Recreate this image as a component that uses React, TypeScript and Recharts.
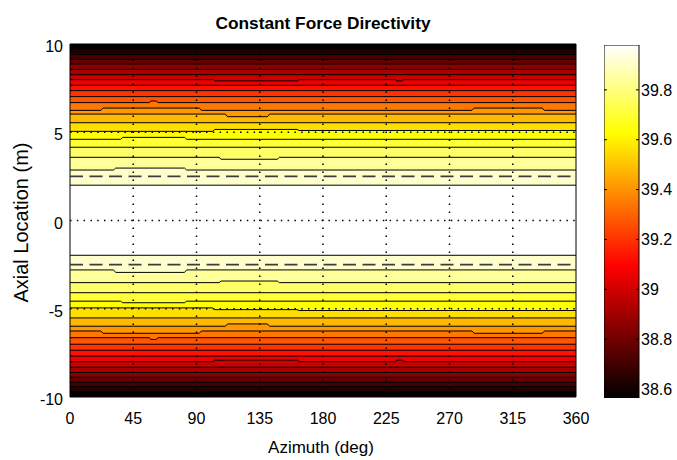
import React from 'react';
import { ComposedChart, Area, Bar, XAxis, YAxis, ReferenceLine, ReferenceArea, Label } from 'recharts';

const FONT = "'Liberation Sans', Arial, Helvetica, sans-serif";

const azimuthTicks = [0, 45, 90, 135, 180, 225, 270, 315, 360];
const axialTicks = [-10, -5, 0, 5, 10];
const gridAzimuths = [45, 90, 135, 180, 225, 270, 315];
const gridAxials = [-5, 0, 5];
const dashedAxials = [-2.5, 2.5];
const colorTicks = [38.6, 38.8, 39, 39.2, 39.4, 39.6, 39.8];
const colorRange = [38.564, 39.98];

// contour levels (level k bounds the band coloured by level k-1)
const contourLevels = [38.56, 38.64, 38.71, 38.78, 38.85, 38.92, 38.99, 39.06, 39.13, 39.20, 39.27,
  39.34, 39.41, 39.48, 39.56, 39.63, 39.70, 39.77, 39.84, 39.91, 39.98];

// contour lines above 0: [azimuth, axial] vertices, outermost first
const upperContours: number[][][] = [
  [[0, 9.70], [360, 9.70]],
  [[0, 9.40], [360, 9.40]],
  [[0, 9.13], [360, 9.13]],
  [[0, 8.87], [360, 8.87]],
  [[0, 8.56], [360, 8.56]],
  [[0, 8.26], [360, 8.26]],
  [[0, 7.98], [102, 7.98], [103, 7.91], [162, 7.91], [163, 7.98], [231.5, 7.98], [232.5, 7.91], [236.5, 7.91], [237.5, 7.98], [360, 7.98]],
  [[0, 7.66], [360, 7.66]],
  [[0, 7.36], [360, 7.36]],
  [[0, 7.02], [360, 7.02]],
  [[0, 6.68], [56.5, 6.68], [57.5, 6.77], [61.5, 6.77], [62.5, 6.68], [360, 6.68]],
  [[0, 6.24], [22, 6.24], [23.5, 6.37], [92, 6.37], [93.5, 6.24], [286, 6.24], [287.5, 6.37], [336, 6.37], [337.5, 6.24], [360, 6.24]],
  [[0, 6.03], [110.5, 6.03], [112, 5.88], [140.5, 5.88], [142, 6.03], [360, 6.03]],
  [[0, 5.54], [360, 5.54]],
  [[0, 5.05], [101.5, 5.05], [103, 5.16], [161.5, 5.16], [163, 5.10], [360, 5.10]],
  [[0, 4.60], [36, 4.60], [37.5, 4.71], [81.5, 4.71], [83, 4.60], [360, 4.60]],
  [[0, 4.15], [360, 4.15]],
  [[0, 3.58], [106, 3.58], [107.5, 3.47], [147.5, 3.47], [149, 3.58], [360, 3.58]],
  [[0, 2.86], [31, 2.86], [32.5, 2.97], [81.5, 2.97], [83, 2.86], [360, 2.86]],
  [[0, 2.0], [360, 2.0]],
];

// contour lines below 0, outermost first
const lowerContours: number[][][] = [
  [[0, -9.70], [360, -9.70]],
  [[0, -9.41], [360, -9.41]],
  [[0, -9.16], [360, -9.16]],
  [[0, -8.88], [360, -8.88]],
  [[0, -8.61], [360, -8.61]],
  [[0, -8.31], [360, -8.31]],
  [[0, -8.00], [102, -8.00], [103, -7.91], [162, -7.91], [163, -8.00], [231.5, -8.00], [232.5, -7.91], [236.5, -7.91], [237.5, -8.00], [360, -8.00]],
  [[0, -7.68], [360, -7.68]],
  [[0, -7.35], [360, -7.35]],
  [[0, -7.01], [360, -7.01]],
  [[0, -6.64], [56.5, -6.64], [57.5, -6.74], [61.5, -6.74], [62.5, -6.64], [360, -6.64]],
  [[0, -6.26], [22, -6.26], [23.5, -6.39], [92, -6.39], [93.5, -6.26], [286, -6.26], [287.5, -6.39], [336, -6.39], [337.5, -6.26], [360, -6.26]],
  [[0, -5.99], [110.5, -5.99], [112, -5.86], [140.5, -5.86], [142, -5.99], [360, -5.99]],
  [[0, -5.52], [360, -5.52]],
  [[0, -4.95], [101.5, -4.95], [103, -5.05], [161.5, -5.05], [163, -5.10], [360, -5.10]],
  [[0, -4.57], [36, -4.57], [37.5, -4.66], [81.5, -4.66], [83, -4.57], [360, -4.57]],
  [[0, -4.09], [360, -4.09]],
  [[0, -3.52], [106, -3.52], [107.5, -3.43], [147.5, -3.43], [149, -3.52], [360, -3.52]],
  [[0, -2.80], [31, -2.80], [32.5, -2.94], [81.5, -2.94], [83, -2.80], [360, -2.80]],
  [[0, -1.97], [360, -1.97]],
];

const clamp = (v: number) => Math.max(0, Math.min(1, v));
const hot = (value: number) => {
  const t = clamp((value - colorRange[0]) / (colorRange[1] - colorRange[0]));
  const r = clamp(t / 0.375);
  const g = clamp((t - 0.375) / 0.375);
  const b = clamp((t - 0.75) / 0.25);
  const h = (c: number) => Math.round(c * 255).toString(16).padStart(2, '0');
  return `#${h(r)}${h(g)}${h(b)}`;
};

const toRows = (pts: number[][]) => pts.map(([az, axial]) => ({ az, axial }));

const PLOT_TOP = 44;
const PLOT_BOTTOM_GAP = 63;
const CB_WIDTH = 35;

const XTick = (props: any) => {
  const { x, y, payload } = props;
  return (
    <text x={x} y={y} dy="0.71em" textAnchor="middle" fontFamily={FONT} fontSize={16} fill="#000">
      {payload.value}
    </text>
  );
};

const YTick = (props: any) => {
  const { x, y, payload } = props;
  return (
    <text x={x} y={y + 2.5} dy="0.355em" textAnchor="end" fontFamily={FONT} fontSize={16} fill="#000">
      {payload.value}
    </text>
  );
};

const CBTick = (props: any) => {
  const { x, y, payload } = props;
  const right = x - 2;
  const left = right - CB_WIDTH;
  return (
    <g>
      <line x1={left} x2={left + 3} y1={y} y2={y} stroke="#000" strokeWidth={1} />
      <line x1={right - 3} x2={right} y1={y} y2={y} stroke="#000" strokeWidth={1} />
      <text x={x} y={y} dy="0.355em" textAnchor="start" fontFamily={FONT} fontSize={16} fill="#000">
        {payload.value}
      </text>
    </g>
  );
};

const YLabel = (props: any) => {
  const vb = props.viewBox || { x: 0, y: PLOT_TOP, width: 70, height: 353 };
  const cx = vb.x + 21;
  const cy = vb.y + vb.height / 2 + 2;
  return (
    <text x={cx} y={cy} transform={`rotate(-90 ${cx} ${cy})`} textAnchor="middle" dominantBaseline="central"
      fontFamily={FONT} fontSize={20} fill="#000">
      Axial Location (m)
    </text>
  );
};

const XLabel = (props: any) => {
  const vb = props.viewBox || { x: 70, y: 397, width: 506, height: 30 };
  return (
    <text x={vb.x + vb.width / 2 - 2} y={vb.y + 56} textAnchor="middle" fontFamily={FONT} fontSize={17} fill="#000">
      Azimuth (deg)
    </text>
  );
};

const TitleLabel = (props: any) => {
  const vb = props.viewBox || { x: 70, y: PLOT_TOP, width: 506, height: 353 };
  return (
    <text x={vb.x + vb.width / 2} y={vb.y - 15} textAnchor="middle" fontFamily={FONT} fontSize={17.3}
      fontWeight="bold" fill="#000">
      Constant Force Directivity
    </text>
  );
};

export default function App() {
  const upperOrder = upperContours.map((_, i) => i).reverse();
  const lowerOrder = lowerContours.map((_, i) => i).reverse();
  const colorbarData = [{ name: 'cb', range: colorRange }];

  return (
    <div style={{ position: 'absolute', left: 0, top: 0, width: 677, height: 460, background: '#fff' }}>
      <div style={{ position: 'absolute', left: 0, top: 0 }}>
        <ComposedChart width={677} height={460} margin={{ top: PLOT_TOP, right: 101, bottom: PLOT_BOTTOM_GAP - 30, left: 0 }}>
          <XAxis type="number" dataKey="az" domain={[0, 360]} ticks={azimuthTicks} allowDataOverflow
            height={30} tickLine={false} axisLine={false} tickSize={0} tickMargin={16} tick={<XTick />} interval={0}>
            <Label content={<XLabel />} />
          </XAxis>
          <YAxis type="number" domain={[-10, 10]} ticks={axialTicks} allowDataOverflow width={70}
            tickLine={false} axisLine={false} tickSize={0} tickMargin={7} tick={<YTick />} interval={0}>
            <Label content={<YLabel />} />
          </YAxis>
          {upperOrder.map((i) => (
            <Area key={`u${i}`} type="linear" data={toRows(upperContours[i])} dataKey="axial" baseValue={10}
              fill={hot(contourLevels[i])} fillOpacity={1} stroke="#000" strokeWidth={1}
              dot={false} activeDot={false} isAnimationActive={false} />
          ))}
          {lowerOrder.map((i) => (
            <Area key={`l${i}`} type="linear" data={toRows(lowerContours[i])} dataKey="axial" baseValue={-10}
              fill={hot(contourLevels[i])} fillOpacity={1} stroke="#000" strokeWidth={1}
              dot={false} activeDot={false} isAnimationActive={false} />
          ))}
          {dashedAxials.map((v) => (
            <ReferenceLine key={`d${v}`} y={v} stroke="#3c3c3c" strokeWidth={1.6} strokeDasharray="13 6.5" />
          ))}
          {gridAxials.map((v) => (
            <ReferenceLine key={`gy${v}`} y={v} stroke="#000" strokeWidth={1.5} strokeDasharray="1.5 5.3" />
          ))}
          {gridAzimuths.map((v) => (
            <ReferenceLine key={`gx${v}`} x={v} stroke="#000" strokeWidth={1.5} strokeDasharray="1.5 6.5" />
          ))}
          <ReferenceArea x1={0} x2={360} y1={-10} y2={10} fill="none" fillOpacity={0} stroke="#000" strokeWidth={1}>
            <Label content={<TitleLabel />} />
          </ReferenceArea>
        </ComposedChart>
      </div>
      <div style={{ position: 'absolute', left: 604, top: 0 }}>
        <ComposedChart width={73} height={460} data={colorbarData} barCategoryGap={0}
          margin={{ top: 45, right: 0, bottom: 62, left: 0 }}>
          <defs>
            <linearGradient id="hotGradient" x1="0" y1="1" x2="0" y2="0">
              <stop offset="0" stopColor="#000000" />
              <stop offset="0.375" stopColor="#ff0000" />
              <stop offset="0.75" stopColor="#ffff00" />
              <stop offset="1" stopColor="#ffffff" />
            </linearGradient>
          </defs>
          <XAxis dataKey="name" type="category" hide />
          <YAxis orientation="right" type="number" domain={colorRange} allowDataOverflow ticks={colorTicks}
            width={73 - CB_WIDTH} tickLine={false} axisLine={false} tickSize={0} tickMargin={2} tick={<CBTick />} interval={0} />
          <Bar dataKey="range" fill="url(#hotGradient)" stroke="#000" strokeWidth={1} isAnimationActive={false} />
        </ComposedChart>
      </div>
    </div>
  );
}
